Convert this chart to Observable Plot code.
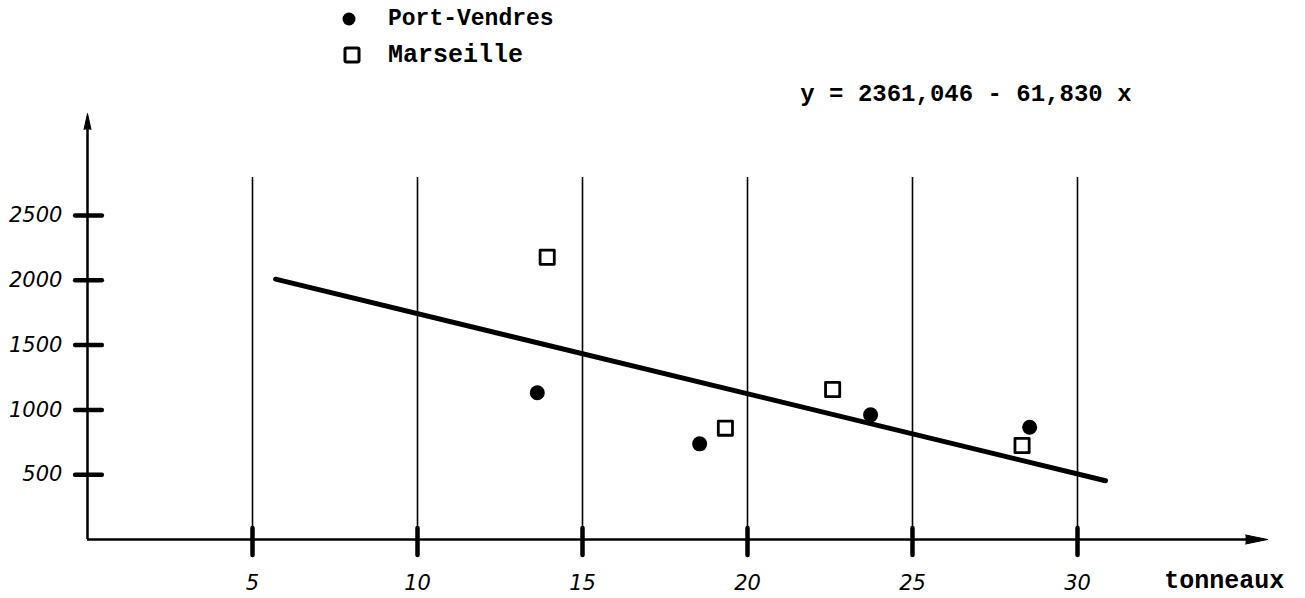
<!DOCTYPE html>
<html><head><meta charset="utf-8">
<script src="https://cdn.jsdelivr.net/npm/d3@7"></script>
<script src="https://cdn.jsdelivr.net/npm/@observablehq/plot@0.6"></script>
<style>
body{margin:0;background:#fff}
#wrap{position:relative;width:1305px;height:598px;overflow:hidden}
#legend{position:absolute;left:330px;top:0}
</style></head><body>
<div id="wrap"><div id="chart"></div><svg id="legend" width="260" height="75"></svg></div>
<script>
const xTicks = [5, 10, 15, 20, 25, 30];
const xTickLabels = ["5", "10", "15", "20", "25", "30"];
const yTicks = [500, 1000, 1500, 2000, 2500];
const yTickLabels = ["500", "1000", "1500", "2000", "2500"];
const seriesNames = ["Port-Vendres", "Marseille"];
const portVendresX = [13.63, 18.55, 23.73, 28.55];
const portVendresY = [1132, 738, 962, 866];
const marseilleX = [13.93, 19.33, 22.58, 28.32];
const marseilleY = [2178, 859, 1157, 725];
const intercept = 2361.046;
const slope = -61.830;
const fitExtent = [5.7, 30.85];
const equation = "y = 2361,046 - 61,830 x";
const xTitle = "tonneaux";

const pv = portVendresX.map((x, i) => ({x, y: portVendresY[i]}));
const ms = marseilleX.map((x, i) => ({x, y: marseilleY[i]}));
const fit = fitExtent.map(x => ({x, y: intercept + slope * x}));

const hand = "'DejaVu Sans', sans-serif";
const mono = "'Liberation Mono', 'DejaVu Sans Mono', monospace";

const chart = Plot.plot({
  width: 1305,
  height: 598,
  x: {domain: [0, 30], range: [87, 1077], axis: null},
  y: {domain: [0, 2500], range: [539, 215], axis: null},
  style: {background: "white", color: "black", overflow: "visible"},
  marks: [
    // grid lines
    Plot.ruleX(xTicks, {x: d => d, y1: 0, y2: 2793, stroke: "black", strokeWidth: 1.6}),
    // axes
    Plot.ruleY([0], {x1: 0, x2: 35.2, stroke: "black", strokeWidth: 2.5}),
    Plot.ruleX([0], {y1: 0, y2: 3200, stroke: "black", strokeWidth: 2.5}),
    Plot.vector([{x: 35.76, y: 0}], {x: "x", y: "y", rotate: 90, length: 22, r: 4.5, shape: "spike", anchor: "end", fill: "black", stroke: "black", strokeWidth: 1}),
    Plot.vector([{x: 0, y: 3287}], {x: "x", y: "y", rotate: 0, length: 16, r: 3.5, shape: "spike", anchor: "end", fill: "black", stroke: "black", strokeWidth: 1}),
    // tick marks
    Plot.ruleX(xTicks, {x: d => d, y1: -123, y2: 85, stroke: "black", strokeWidth: 4.5, strokeLinecap: "round"}),
    Plot.ruleY(yTicks, {y: d => d, x1: -0.36, x2: 0.45, stroke: "black", strokeWidth: 4.5, strokeLinecap: "round"}),
    // tick labels
    Plot.text(xTicks, {x: d => d, y: -340, text: (d, i) => xTickLabels[i], fontSize: 21, fontStyle: "italic", fontFamily: hand, fill: "black"}),
    Plot.text(yTicks, {x: -0.76, y: d => d, text: (d, i) => yTickLabels[i], textAnchor: "end", fontSize: 21, fontStyle: "italic", fontFamily: hand, fill: "black"}),
    Plot.text([xTitle], {x: 34.45, y: -316, text: d => d, fontSize: 25, fontWeight: "bold", fontFamily: mono, fill: "black"}),
    // regression line
    Plot.line(fit, {x: "x", y: "y", stroke: "black", strokeWidth: 5}),
    Plot.text([equation], {x: 21.6, y: 3441, text: d => d, textAnchor: "start", fontSize: 24, fontWeight: "bold", fontFamily: mono, fill: "black"}),
    // data
    Plot.dot(ms, {x: "x", y: "y", symbol: "square", r: 8, fill: "white", stroke: "black", strokeWidth: 2.8, strokeLinejoin: "round"}),
    Plot.dot(pv, {x: "x", y: "y", symbol: "circle", r: 7.5, fill: "black", stroke: "none"})
  ]
});
document.getElementById("chart").appendChild(chart);

// legend
const lg = d3.select("#legend");
lg.append("circle").attr("cx", 19).attr("cy", 19).attr("r", 6.5).attr("fill", "black");
lg.append("rect").attr("x", 15).attr("y", 48).attr("width", 14).attr("height", 14)
  .attr("fill", "white").attr("stroke", "black").attr("stroke-width", 3).attr("rx", 1.5);
lg.append("text").attr("x", 58).attr("y", 19).attr("dominant-baseline", "central")
  .attr("font-family", mono).attr("font-size", 23).attr("font-weight", "bold").text(seriesNames[0]);
lg.append("text").attr("x", 58).attr("y", 55).attr("dominant-baseline", "central")
  .attr("font-family", mono).attr("font-size", 25).attr("font-weight", "bold").text(seriesNames[1]);
</script>
</body></html>
